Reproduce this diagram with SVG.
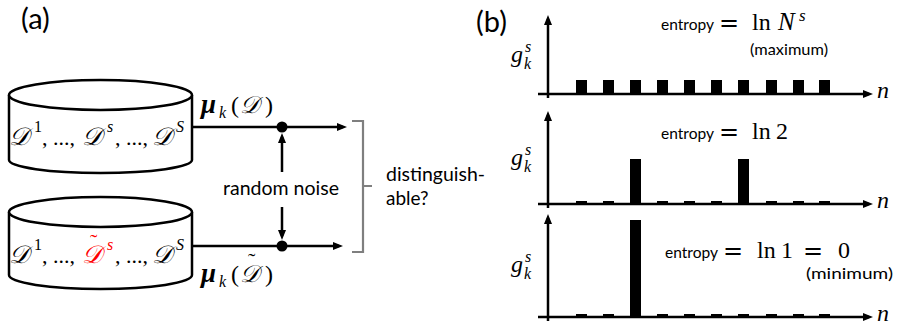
<svg xmlns="http://www.w3.org/2000/svg" width="899" height="332" viewBox="0 0 899 332">
<style>
.ln{fill:none;stroke:#000;stroke-width:2.5}
.cyl{fill:#fff;stroke:#000;stroke-width:2.5}
.lbl{font-family:Lato,"Liberation Sans",sans-serif;fill:#000}
.m{font-family:"Liberation Serif","DejaVu Serif",serif;fill:#000}
.eq{font-family:"DejaVu Serif","Liberation Serif",serif;fill:#000}
.mi{font-family:"Liberation Serif","DejaVu Serif",serif;font-style:italic;fill:#000}
.bar{fill:#000}
</style>
<defs>
<marker id="ah" viewBox="0 0 10 8" refX="6" refY="4" markerWidth="10" markerHeight="8" markerUnits="userSpaceOnUse" orient="auto">
<path d="M0,0 L10,4 L0,8 z" fill="#000"/>
</marker>
</defs>

<text class="lbl" x="21" y="29" font-size="29">(a)</text>
<text class="lbl" x="476" y="32" font-size="29">(b)</text>

<g id="db-top">
<path class="cyl" d="M9,95 V160 A91.5,13 0 0 0 192,160 V95"/>
<ellipse class="cyl" cx="100.5" cy="95" rx="91.5" ry="15"/>
<text class="mi" y="145" font-size="25"><tspan x="9">𝒟</tspan><tspan x="34" y="132" font-size="16" font-style="normal">1</tspan><tspan x="42" y="145" font-size="22" font-style="normal">, ..., </tspan><tspan x="82">𝒟</tspan><tspan x="107" y="132" font-size="16">s</tspan><tspan x="115" y="145" font-size="22" font-style="normal">, ..., </tspan><tspan x="152">𝒟</tspan><tspan x="176" y="132" font-size="16">S</tspan></text>
</g>

<g id="db-bottom">
<path class="cyl" d="M9,212 V275 A91.5,14 0 0 0 192,275 V212"/>
<ellipse class="cyl" cx="100.5" cy="212" rx="91.5" ry="15"/>
<text class="mi" y="263" font-size="25"><tspan x="9">𝒟</tspan><tspan x="34" y="250" font-size="16" font-style="normal">1</tspan><tspan x="42" y="263" font-size="22" font-style="normal">, ..., </tspan><tspan x="82" fill="#ff0000">𝒟</tspan><tspan x="90" y="249" font-size="22" font-style="normal" fill="#ff0000">˜</tspan><tspan x="107" y="250" font-size="16" fill="#ff0000">s</tspan><tspan x="115" y="263" font-size="22" font-style="normal">, ..., </tspan><tspan x="152">𝒟</tspan><tspan x="176" y="250" font-size="16">S</tspan></text>
</g>

<g id="labels-mu">
<text class="mi" y="113" font-size="24"><tspan x="201" font-weight="bold" font-size="27">μ</tspan><tspan x="219" y="118" font-size="16">k</tspan><tspan x="231" y="113" font-style="normal">(</tspan><tspan x="240" font-size="24">𝒟</tspan><tspan x="265" font-style="normal">)</tspan></text>
<text class="mi" y="282" font-size="24"><tspan x="201" font-weight="bold" font-size="27">μ</tspan><tspan x="219" y="287" font-size="16">k</tspan><tspan x="231" y="282" font-style="normal">(</tspan><tspan x="240" font-size="24">𝒟</tspan><tspan x="248" y="268" font-size="22" font-style="normal">˜</tspan><tspan x="265" y="282" font-style="normal">)</tspan></text>
</g>

<g id="noise">
<text class="lbl" x="223" y="195" font-size="19" textLength="116" lengthAdjust="spacingAndGlyphs">random noise</text>
</g>

<g id="distinguishable">
<text class="lbl" x="386" y="181" font-size="19" textLength="99" lengthAdjust="spacingAndGlyphs">distinguish-</text>
<text class="lbl" x="386" y="205" font-size="19">able?</text>
</g>

<g id="connectors">
<line class="ln" x1="192" y1="127" x2="343" y2="127" marker-end="url(#ah)"/>
<line class="ln" x1="192" y1="246" x2="339" y2="246" marker-end="url(#ah)"/>
<line class="ln" x1="282" y1="172" x2="282" y2="137" marker-end="url(#ah)"/>
<line class="ln" x1="282" y1="207" x2="282" y2="236" marker-end="url(#ah)"/>
<circle cx="282" cy="127" r="5.5" fill="#000"/>
<circle cx="282" cy="246" r="5.5" fill="#000"/>
<path d="M352,121 H363 V252 H352 M363,186 H372" fill="none" stroke="#7f7f7f" stroke-width="2.2"/>
</g>

<g id="plot-1">
<line class="ln" x1="548" y1="98" x2="548" y2="19" marker-end="url(#ah)"/>
<line class="ln" x1="538" y1="94" x2="869" y2="94" marker-end="url(#ah)"/>
<g class="bar">
<rect x="576" y="80" width="11" height="14"/><rect x="603" y="80" width="11" height="14"/><rect x="630" y="80" width="11" height="14"/><rect x="657" y="80" width="11" height="14"/><rect x="684" y="80" width="11" height="14"/><rect x="711" y="80" width="11" height="14"/><rect x="738" y="80" width="11" height="14"/><rect x="766" y="80" width="11" height="14"/><rect x="793" y="80" width="11" height="14"/><rect x="819" y="80" width="11" height="14"/>
</g>
<text class="mi" x="511" y="62" font-size="24">g</text>
<text class="mi" x="525" y="52" font-size="16">s</text>
<text class="mi" x="524" y="69" font-size="16">k</text>
<text class="mi" x="877" y="98" font-size="24">n</text>
<text class="lbl" x="661" y="30" font-size="16" textLength="53" lengthAdjust="spacingAndGlyphs">entropy</text>
<text class="eq" x="719" y="31" font-size="24">=</text>
<text class="m" y="30" font-size="24"><tspan x="752">ln</tspan><tspan x="778" font-style="italic" font-size="25">N</tspan><tspan x="799" y="21" font-size="17" font-style="italic">s</tspan></text>
<text class="lbl" x="750" y="55" font-size="16" textLength="78" lengthAdjust="spacingAndGlyphs">(maximum)</text>
</g>

<g id="plot-2">
<line class="ln" x1="548" y1="208" x2="548" y2="115" marker-end="url(#ah)"/>
<line class="ln" x1="538" y1="204" x2="869" y2="204" marker-end="url(#ah)"/>
<g class="bar">
<rect x="576" y="201" width="11" height="3"/><rect x="603" y="201" width="11" height="3"/><rect x="630" y="159" width="11" height="45"/><rect x="657" y="201" width="11" height="3"/><rect x="684" y="201" width="11" height="3"/><rect x="711" y="201" width="11" height="3"/><rect x="738" y="159" width="11" height="45"/><rect x="766" y="201" width="11" height="3"/><rect x="793" y="201" width="11" height="3"/><rect x="819" y="201" width="11" height="3"/>
</g>
<text class="mi" x="511" y="165" font-size="24">g</text>
<text class="mi" x="525" y="155" font-size="16">s</text>
<text class="mi" x="524" y="172" font-size="16">k</text>
<text class="mi" x="877" y="208" font-size="24">n</text>
<text class="lbl" x="661" y="139" font-size="16" textLength="53" lengthAdjust="spacingAndGlyphs">entropy</text>
<text class="eq" x="719" y="140" font-size="24">=</text>
<text class="m" y="139" font-size="24"><tspan x="752">ln</tspan><tspan x="776">2</tspan></text>
</g>

<g id="plot-3">
<line class="ln" x1="548" y1="321" x2="548" y2="218" marker-end="url(#ah)"/>
<line class="ln" x1="538" y1="317" x2="869" y2="317" marker-end="url(#ah)"/>
<g class="bar">
<rect x="576" y="314" width="11" height="3"/><rect x="603" y="314" width="11" height="3"/><rect x="630" y="220" width="11" height="97"/><rect x="657" y="314" width="11" height="3"/><rect x="684" y="314" width="11" height="3"/><rect x="711" y="314" width="11" height="3"/><rect x="738" y="314" width="11" height="3"/><rect x="766" y="314" width="11" height="3"/><rect x="793" y="314" width="11" height="3"/><rect x="819" y="314" width="11" height="3"/>
</g>
<text class="mi" x="511" y="272" font-size="24">g</text>
<text class="mi" x="525" y="262" font-size="16">s</text>
<text class="mi" x="524" y="279" font-size="16">k</text>
<text class="mi" x="877" y="321" font-size="24">n</text>
<text class="lbl" x="665" y="258" font-size="16" textLength="53" lengthAdjust="spacingAndGlyphs">entropy</text>
<text class="eq" x="723" y="259" font-size="24">=</text>
<text class="m" y="258" font-size="24"><tspan x="757">ln</tspan><tspan x="781">1</tspan></text>
<text class="eq" x="803" y="259" font-size="24">=</text>
<text class="m" x="838" y="258" font-size="24">0</text>
<text class="lbl" x="806" y="279" font-size="16" textLength="87" lengthAdjust="spacingAndGlyphs">(minimum)</text>
</g>
</svg>
